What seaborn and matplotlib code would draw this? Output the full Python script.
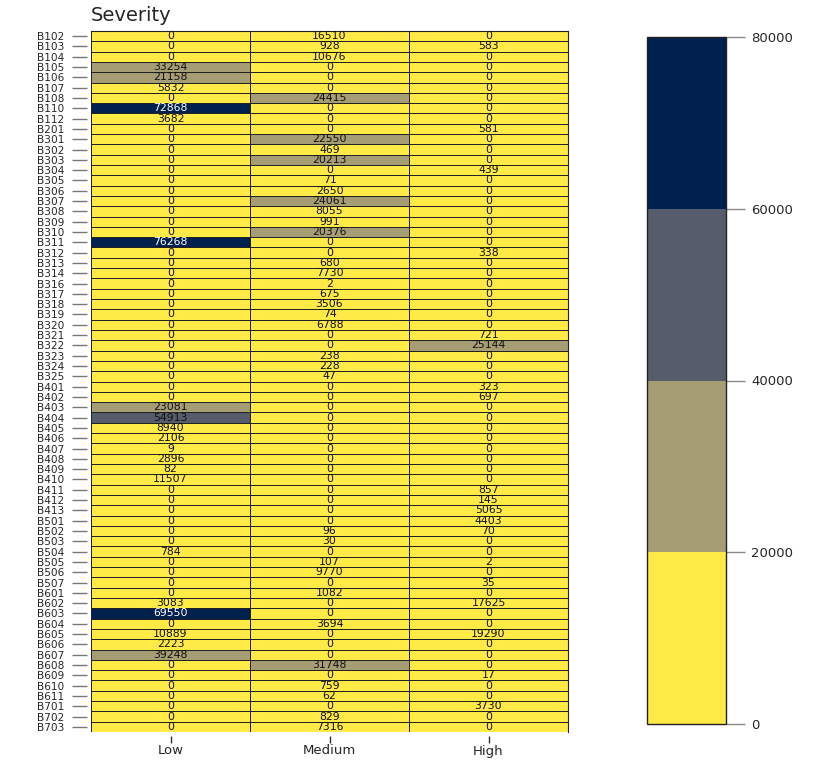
import numpy as np
import pandas as pd
import matplotlib
matplotlib.use("Agg")
import matplotlib.pyplot as plt
import seaborn as sns
from matplotlib.colors import ListedColormap

# --- data ---
rows = ["B102", "B103", "B104", "B105", "B106", "B107", "B108", "B110", "B112", "B201",
        "B301", "B302", "B303", "B304", "B305", "B306", "B307", "B308", "B309", "B310",
        "B311", "B312", "B313", "B314", "B316", "B317", "B318", "B319", "B320", "B321",
        "B322", "B323", "B324", "B325", "B401", "B402", "B403", "B404", "B405", "B406",
        "B407", "B408", "B409", "B410", "B411", "B412", "B413", "B501", "B502", "B503",
        "B504", "B505", "B506", "B507", "B601", "B602", "B603", "B604", "B605", "B606",
        "B607", "B608", "B609", "B610", "B611", "B701", "B702", "B703"]
levels = ["Low", "Medium", "High"]

low = [0, 0, 0, 33254, 21158, 5832, 0, 72868, 3682, 0,
       0, 0, 0, 0, 0, 0, 0, 0, 0, 0,
       76268, 0, 0, 0, 0, 0, 0, 0, 0, 0,
       0, 0, 0, 0, 0, 0, 23081, 54913, 8940, 2106,
       9, 2896, 82, 11507, 0, 0, 0, 0, 0, 0,
       784, 0, 0, 0, 0, 3083, 69550, 0, 10889, 2223,
       39248, 0, 0, 0, 0, 0, 0, 0]
medium = [16510, 928, 10676, 0, 0, 0, 24415, 0, 0, 0,
          22550, 469, 20213, 0, 71, 2650, 24061, 8055, 991, 20376,
          0, 0, 680, 7730, 2, 675, 3506, 74, 6788, 0,
          0, 238, 228, 47, 0, 0, 0, 0, 0, 0,
          0, 0, 0, 0, 0, 0, 0, 0, 96, 30,
          0, 107, 9770, 0, 1082, 0, 0, 3694, 0, 0,
          0, 31748, 0, 759, 62, 0, 829, 7316]
high = [0, 583, 0, 0, 0, 0, 0, 0, 0, 581,
        0, 0, 0, 439, 0, 0, 0, 0, 0, 0,
        0, 338, 0, 0, 0, 0, 0, 0, 0, 721,
        25144, 0, 0, 0, 323, 697, 0, 0, 0, 0,
        0, 0, 0, 0, 857, 145, 5065, 4403, 70, 0,
        0, 2, 0, 35, 0, 17625, 0, 0, 19290, 0,
        0, 0, 17, 0, 0, 3730, 0, 0]

cbar_ticks = [0, 20000, 40000, 60000, 80000]
palette = ["#FFEA46", "#A69D75", "#575C6D", "#00204D"]

df = pd.DataFrame({"Low": low, "Medium": medium, "High": high}, index=rows)[levels]

sns.set_style("ticks")
plt.rcParams['font.family'] = ['DejaVu Sans']

W, H = 830, 763
fig = plt.figure(figsize=(W / 100, H / 100), dpi=100)
ax = fig.add_axes([91 / W, 1 - 732 / H, (568 - 91) / W, (732 - 31) / H])
cax = fig.add_axes([647 / W, 1 - 724 / H, (726 - 647) / W, (724 - 37) / H])

sns.heatmap(df, ax=ax, cbar_ax=cax, cmap=ListedColormap(palette), vmin=0, vmax=80000,
            annot=True, fmt="d", annot_kws={"size": 7.8},
            linewidths=0.6, linecolor="#222222",
            xticklabels=True, yticklabels=True,
            cbar_kws={"ticks": cbar_ticks})

# text colour: white only on the darkest band
for txt, val in zip(ax.texts, df.values.flatten()):
    txt.set_color("white" if val >= 60000 else "#111111")

# outer frame of the grid
for side in ["top", "right"]:
    ax.spines[side].set_visible(True)
    ax.spines[side].set_color("#222222")
    ax.spines[side].set_linewidth(0.8)
for side in ["left", "bottom"]:
    ax.spines[side].set_position(("outward", 3))
ax.tick_params(axis="y", left=True, length=11, width=1, color="#777777",
               labelsize=7.6, pad=5, rotation=0)
ax.tick_params(axis="x", bottom=True, length=5, width=1, color="#333333",
               labelsize=9.5, pad=1, rotation=0)
ax.set_xlabel("")
ax.set_ylabel("")

ax.text(0.0, 1.008, "Severity", transform=ax.transAxes, fontsize=14, ha="left", va="bottom")

cax.tick_params(right=True, length=14, width=1, color="#888888", labelsize=9.5, pad=4)
cb = ax.collections[0].colorbar
cb.outline.set_edgecolor("#222222")
cb.outline.set_linewidth(1)

fig.savefig("out.png", dpi=100)
